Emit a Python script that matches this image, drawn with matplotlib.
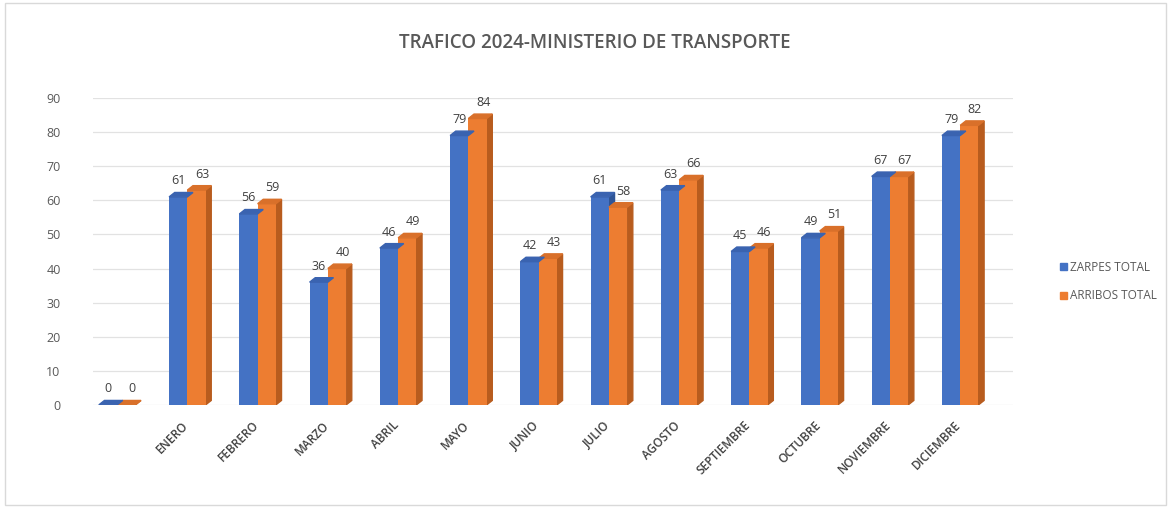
import numpy as np
import matplotlib
matplotlib.use("Agg")
import matplotlib.pyplot as plt
from matplotlib.patches import Polygon, Rectangle

# data
meses = ["", "ENERO", "FEBRERO", "MARZO", "ABRIL", "MAYO", "JUNIO", "JULIO",
         "AGOSTO", "SEPTIEMBRE", "OCTUBRE", "NOVIEMBRE", "DICIEMBRE"]
zarpes = [0, 61, 56, 36, 46, 79, 42, 61, 63, 45, 49, 67, 79]
arribos = [0, 63, 59, 40, 49, 84, 43, 58, 66, 46, 51, 67, 82]

plt.rcParams['font.family'] = ['Open Sans', 'DejaVu Sans']

fig = plt.figure(figsize=(11.71, 5.08), dpi=100)
ax = fig.add_axes([0.079, 0.203, 0.786, 0.604])

x = np.arange(len(meses))
w = 0.26
dx, dy = 0.08, 1.3   # fake 3d depth


def bar3d(xc, val, front, top, side):
    ax.bar(xc, val, w, color=front, zorder=3)
    l, r = xc - w / 2, xc + w / 2
    ax.add_patch(Polygon([(r, 0), (r + dx, dy), (r + dx, val + dy), (r, val)],
                         closed=True, color=side, zorder=2))
    ax.add_patch(Polygon([(l, val), (l + dx, val + dy), (r + dx, val + dy), (r, val)],
                         closed=True, color=top, zorder=4))


for i in range(len(meses)):
    bar3d(x[i] + w / 2, arribos[i], "#ED7D31", "#D9702A", "#B85C1E")
    bar3d(x[i] - w / 2, zarpes[i], "#4472C4", "#3A63B0", "#2F5597")
    ax.text(x[i] - w / 2, zarpes[i] + dy + 1.5, str(zarpes[i]), ha="center",
            va="bottom", fontsize=9, color="#404040", zorder=5)
    ax.text(x[i] + w / 2 + dx, arribos[i] + dy + 1.5, str(arribos[i]), ha="center",
            va="bottom", fontsize=9, color="#404040", zorder=5)

ax.set_xlim(-0.35, 12.75)
ax.set_ylim(0, 90)
ax.set_yticks(range(0, 91, 10))
ax.yaxis.grid(True, color="#E2E2E2", linewidth=0.9, zorder=0)
ax.set_axisbelow(True)
for s in ax.spines.values():
    s.set_visible(False)
ax.tick_params(axis="y", length=0, pad=23, labelsize=9, labelcolor="#595959")
ax.tick_params(axis="x", length=0, pad=10, labelsize=8.5, labelcolor="#404040")
ax.set_xticks(x - 0.08)
ax.set_xticklabels(meses, rotation=45, ha="right", rotation_mode="anchor",
                   fontweight="semibold")

fig.text(0.508, 0.915, "TRAFICO 2024-MINISTERIO DE TRANSPORTE", ha="center",
         va="center", fontsize=13.5, fontweight="semibold", color="#595959")

# legend
fig.patches.append(Rectangle((0.9055, 0.468), 0.006, 0.014, color="#4472C4",
                             transform=fig.transFigure, figure=fig))
fig.patches.append(Rectangle((0.9055, 0.412), 0.006, 0.014, color="#ED7D31",
                             transform=fig.transFigure, figure=fig))
fig.text(0.914, 0.474, "ZARPES TOTAL", fontsize=8.5, color="#595959", va="center")
fig.text(0.914, 0.418, "ARRIBOS TOTAL", fontsize=8.5, color="#595959", va="center")

# chart border
fig.patches.append(Rectangle((0.004, 0.006), 0.992, 0.988, fill=False,
                             edgecolor="#D9D9D9", linewidth=1,
                             transform=fig.transFigure, figure=fig))

fig.savefig("out.png", dpi=100)
